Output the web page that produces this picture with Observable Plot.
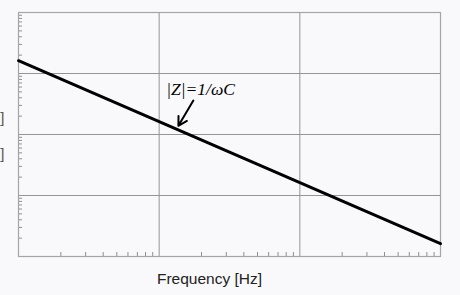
<!DOCTYPE html>
<html>
<head>
<meta charset="utf-8">
<script src="https://cdn.jsdelivr.net/npm/d3@7"></script>
<script src="https://cdn.jsdelivr.net/npm/@observablehq/plot@0.6"></script>
<style>
  html, body { margin: 0; padding: 0; background: #f9f9fb; overflow: hidden; }
  #chart svg { background: #f9f9fb; }
</style>
</head>
<body>
<div id="chart"></div>
<script>
// Frequency (Hz) and impedance magnitude |Z| = 1/(ωC), straight line on log-log axes
const frequency = [1, 1000];
const impedance = [1620, 1.62];

// Axis domains (decades) and grid lines
const xDomain = [1, 1000];
const yDomain = [1, 10000];
const xGrid = [10, 100];
const yGrid = [10, 100, 1000];

// Minor log ticks
const xMinor = [2,3,4,5,6,7,8,9, 20,30,40,50,60,70,80,90, 200,300,400,500,600,700,800,900];
const yMinor = [2,3,4,5,6,7,8,9, 20,30,40,50,60,70,80,90, 200,300,400,500,600,700,800,900, 2000,3000,4000,5000,6000,7000,8000,9000];

// Annotation
const annotationText = ["|Z|=1/ωC"];
const annotationPos = {x: 19.7, y: 545};
const arrowFrom = {x: 17.5, y: 360};
const arrowTo = {x: 13.7, y: 139};

// Labels
const xLabel = "Frequency [Hz]";
const yLabelLines = ["Impedance [Ω]", "|Z| [Ω]"];
const yLabelPos = [182, 48];

const line = frequency.map((f, i) => ({f, z: impedance[i]}));

const chart = Plot.plot({
  width: 460,
  height: 295,
  marginLeft: 18,
  marginRight: 20,
  marginTop: 12,
  marginBottom: 39,
  style: {background: "#f9f9fb", overflow: "visible"},
  x: {type: "log", domain: xDomain, axis: null},
  y: {type: "log", domain: yDomain, axis: null},
  marks: [
    Plot.ruleX(xGrid, {stroke: "#959595", strokeWidth: 1}),
    Plot.ruleY(yGrid, {stroke: "#959595", strokeWidth: 1}),
    Plot.tickX(xMinor, {x: d => d, insetTop: 240, stroke: "#8f8f8f"}),
    Plot.tickY(yMinor, {y: d => d, insetRight: 418, stroke: "#8f8f8f"}),
    Plot.frame({stroke: "#a5a5a5", strokeWidth: 1.2}),
    Plot.line(line, {x: "f", y: "z", stroke: "#000", strokeWidth: 3}),
    Plot.arrow([0], {
      x1: () => arrowFrom.x, y1: () => arrowFrom.y,
      x2: () => arrowTo.x, y2: () => arrowTo.y,
      stroke: "#000", strokeWidth: 2, headLength: 9
    }),
    Plot.text(annotationText, {
      x: () => annotationPos.x, y: () => annotationPos.y, text: d => d,
      fontFamily: "Liberation Serif, serif", fontStyle: "italic", fontSize: 17.5,
      fill: "#000", textAnchor: "middle"
    }),
    Plot.text([xLabel], {
      frameAnchor: "bottom", text: d => d, dy: 27, dx: -20,
      fontFamily: "Liberation Sans, Arial, sans-serif", fontSize: 15.5, fill: "#222"
    }),
    Plot.text(yLabelLines, {
      frameAnchor: "left", y: (d, i) => yLabelPos[i], text: d => d, dx: -14,
      textAnchor: "end", fontFamily: "Liberation Sans, Arial, sans-serif", fontSize: 15, fill: "#555"
    })
  ]
});
document.getElementById("chart").appendChild(chart);
</script>
</body>
</html>
